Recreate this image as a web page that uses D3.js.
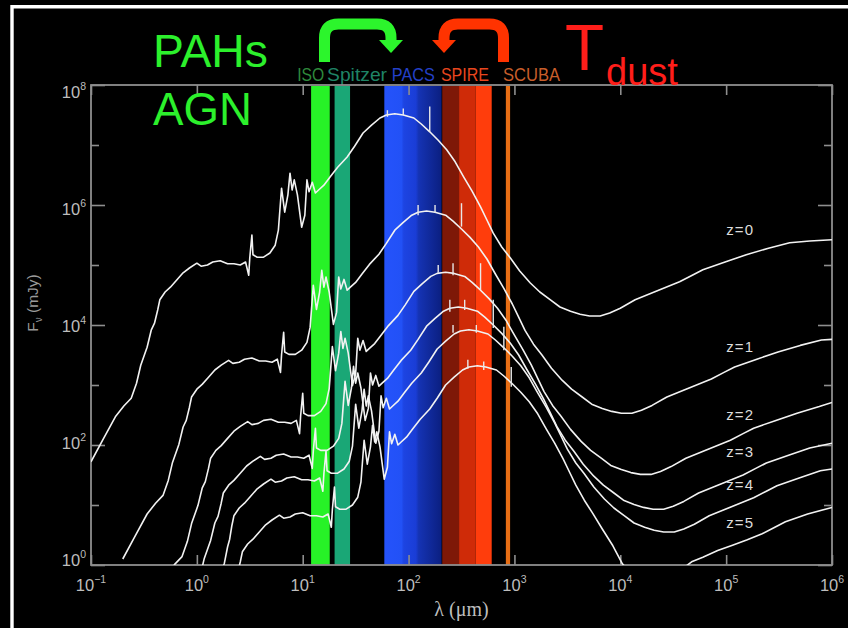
<!DOCTYPE html>
<html>
<head>
<meta charset="utf-8">
<script src="https://cdn.jsdelivr.net/npm/d3@7"></script>
<style>
  html, body { margin: 0; padding: 0; background: #000; }
  svg { display: block; }
</style>
</head>
<body>
<svg id="chart" width="848" height="628"></svg>
<script>
// ---------------------------------------------------------------
// Starburst SED template seen at redshifts z = 0 ... 5
// each point: [log10 λ (μm), log10 Fν (mJy)]
// ---------------------------------------------------------------
const sedZ0 = [[-1.00,1.72],[-0.89,2.08],[-0.77,2.47],[-0.69,2.65],[-0.62,2.78],[-0.57,3.03],[-0.53,3.33],[-0.47,3.63],[-0.43,3.92],[-0.40,4.03],[-0.37,4.25],[-0.35,4.42],[-0.30,4.55],[-0.25,4.63],[-0.19,4.75],[-0.13,4.87],[-0.07,4.95],[0.00,5.03],[0.04,4.98],[0.10,5.00],[0.15,5.05],[0.22,5.07],[0.29,5.02],[0.35,5.02],[0.41,5.00],[0.46,5.05],[0.49,4.83],[0.50,5.12],[0.52,5.50],[0.53,5.17],[0.57,5.13],[0.63,5.13],[0.69,5.20],[0.74,5.33],[0.77,5.58],[0.80,6.28],[0.83,5.88],[0.86,6.17],[0.88,6.53],[0.90,6.25],[0.92,6.42],[0.95,6.17],[0.99,5.63],[1.02,5.83],[1.04,6.42],[1.06,6.22],[1.09,6.38],[1.12,6.20],[1.15,6.25],[1.20,6.33],[1.26,6.47],[1.33,6.63],[1.42,6.80],[1.49,6.98],[1.57,7.20],[1.65,7.33],[1.73,7.45],[1.79,7.50],[1.87,7.52],[1.95,7.50],[2.05,7.45],[2.12,7.35],[2.20,7.22],[2.28,7.08],[2.36,6.92],[2.44,6.72],[2.52,6.47],[2.60,6.23],[2.68,5.97],[2.74,5.75],[2.80,5.53],[2.88,5.30],[2.96,5.12],[3.05,4.90],[3.15,4.70],[3.24,4.55],[3.34,4.42],[3.43,4.30],[3.53,4.23],[3.62,4.18],[3.71,4.15],[3.81,4.15],[3.90,4.20],[4.00,4.28],[4.14,4.42],[4.28,4.52],[4.42,4.62],[4.56,4.72],[4.68,4.83],[4.78,4.92],[4.99,5.05],[5.19,5.17],[5.40,5.28],[5.60,5.37],[5.79,5.40],[6.00,5.42]];

const sedZ1 = [[-0.70,0.10],[-0.59,0.46],[-0.47,0.85],[-0.39,1.03],[-0.32,1.16],[-0.27,1.41],[-0.23,1.71],[-0.17,2.01],[-0.13,2.30],[-0.10,2.41],[-0.07,2.63],[-0.05,2.80],[0.00,2.93],[0.05,3.01],[0.11,3.13],[0.17,3.25],[0.23,3.33],[0.30,3.41],[0.34,3.36],[0.40,3.38],[0.45,3.43],[0.52,3.45],[0.59,3.40],[0.65,3.40],[0.71,3.38],[0.76,3.43],[0.79,3.21],[0.80,3.50],[0.82,3.88],[0.83,3.55],[0.87,3.51],[0.93,3.51],[0.99,3.58],[1.04,3.71],[1.07,3.96],[1.10,4.66],[1.13,4.26],[1.16,4.55],[1.18,4.91],[1.20,4.63],[1.22,4.80],[1.25,4.55],[1.29,4.01],[1.32,4.21],[1.34,4.80],[1.36,4.60],[1.39,4.76],[1.42,4.58],[1.45,4.63],[1.50,4.71],[1.56,4.85],[1.63,5.01],[1.72,5.18],[1.79,5.36],[1.87,5.58],[1.95,5.71],[2.03,5.83],[2.09,5.88],[2.17,5.90],[2.25,5.88],[2.35,5.83],[2.42,5.73],[2.50,5.60],[2.58,5.46],[2.66,5.30],[2.74,5.10],[2.82,4.85],[2.90,4.61],[2.98,4.35],[3.04,4.13],[3.10,3.91],[3.18,3.68],[3.26,3.50],[3.35,3.28],[3.45,3.08],[3.54,2.93],[3.64,2.80],[3.73,2.68],[3.83,2.61],[3.92,2.56],[4.01,2.53],[4.11,2.53],[4.20,2.58],[4.30,2.66],[4.44,2.80],[4.58,2.90],[4.72,3.00],[4.86,3.10],[4.98,3.21],[5.08,3.30],[5.29,3.43],[5.49,3.55],[5.70,3.66],[5.90,3.75],[6.00,3.76]];

const sedZ2 = [[-0.29,-0.17],[-0.21,0.01],[-0.14,0.14],[-0.09,0.39],[-0.05,0.69],[0.01,0.99],[0.05,1.28],[0.08,1.39],[0.11,1.61],[0.13,1.78],[0.18,1.91],[0.23,1.99],[0.29,2.11],[0.35,2.23],[0.41,2.31],[0.48,2.39],[0.52,2.34],[0.58,2.36],[0.63,2.41],[0.70,2.43],[0.77,2.38],[0.83,2.38],[0.89,2.36],[0.94,2.41],[0.97,2.19],[0.98,2.48],[1.00,2.86],[1.01,2.53],[1.05,2.49],[1.11,2.49],[1.17,2.56],[1.22,2.69],[1.25,2.94],[1.28,3.64],[1.31,3.24],[1.34,3.53],[1.36,3.89],[1.38,3.61],[1.40,3.78],[1.43,3.53],[1.47,2.99],[1.50,3.19],[1.52,3.78],[1.54,3.58],[1.57,3.74],[1.60,3.56],[1.63,3.61],[1.68,3.69],[1.74,3.83],[1.81,3.99],[1.90,4.16],[1.97,4.34],[2.05,4.56],[2.13,4.69],[2.21,4.81],[2.27,4.86],[2.35,4.88],[2.43,4.86],[2.53,4.81],[2.60,4.71],[2.68,4.58],[2.76,4.44],[2.84,4.28],[2.92,4.08],[3.00,3.83],[3.08,3.59],[3.16,3.33],[3.22,3.11],[3.28,2.89],[3.36,2.66],[3.44,2.48],[3.53,2.26],[3.63,2.06],[3.72,1.91],[3.82,1.78],[3.91,1.66],[4.01,1.59],[4.10,1.54],[4.19,1.51],[4.29,1.51],[4.38,1.56],[4.48,1.64],[4.62,1.78],[4.76,1.88],[4.90,1.98],[5.04,2.08],[5.16,2.19],[5.26,2.28],[5.47,2.41],[5.67,2.53],[5.88,2.64],[6.00,2.71]];

const sedZ3 = [[0.03,-0.19],[0.07,0.11],[0.13,0.41],[0.17,0.70],[0.20,0.81],[0.23,1.03],[0.25,1.20],[0.30,1.33],[0.35,1.41],[0.41,1.53],[0.47,1.65],[0.53,1.73],[0.60,1.81],[0.64,1.76],[0.70,1.78],[0.75,1.83],[0.82,1.85],[0.89,1.80],[0.95,1.80],[1.01,1.78],[1.06,1.83],[1.09,1.61],[1.10,1.90],[1.12,2.28],[1.13,1.95],[1.17,1.91],[1.23,1.91],[1.29,1.98],[1.34,2.11],[1.37,2.36],[1.40,3.06],[1.43,2.66],[1.46,2.95],[1.48,3.31],[1.50,3.03],[1.52,3.20],[1.55,2.95],[1.59,2.41],[1.62,2.61],[1.64,3.20],[1.66,3.00],[1.69,3.16],[1.72,2.98],[1.75,3.03],[1.80,3.11],[1.86,3.25],[1.93,3.41],[2.02,3.58],[2.09,3.76],[2.17,3.98],[2.25,4.11],[2.33,4.23],[2.39,4.28],[2.47,4.30],[2.55,4.28],[2.65,4.23],[2.72,4.13],[2.80,4.00],[2.88,3.86],[2.96,3.70],[3.04,3.50],[3.12,3.25],[3.20,3.01],[3.28,2.75],[3.34,2.53],[3.40,2.31],[3.48,2.08],[3.56,1.90],[3.65,1.68],[3.75,1.48],[3.84,1.33],[3.94,1.20],[4.03,1.08],[4.13,1.01],[4.22,0.96],[4.31,0.93],[4.41,0.93],[4.50,0.98],[4.60,1.06],[4.74,1.20],[4.88,1.30],[5.02,1.40],[5.16,1.50],[5.28,1.61],[5.38,1.70],[5.59,1.83],[5.79,1.95],[6.00,2.03]];

const sedZ4 = [[0.20,-0.27],[0.26,0.03],[0.29,0.30],[0.31,0.43],[0.33,0.65],[0.35,0.82],[0.40,0.95],[0.45,1.03],[0.51,1.15],[0.57,1.27],[0.63,1.35],[0.70,1.43],[0.74,1.38],[0.80,1.40],[0.85,1.45],[0.92,1.47],[0.99,1.42],[1.05,1.42],[1.11,1.40],[1.16,1.45],[1.19,1.23],[1.20,1.52],[1.22,1.90],[1.23,1.57],[1.27,1.53],[1.33,1.53],[1.39,1.60],[1.44,1.73],[1.47,1.98],[1.50,2.68],[1.53,2.28],[1.56,2.57],[1.58,2.93],[1.60,2.65],[1.62,2.82],[1.65,2.57],[1.69,2.03],[1.72,2.23],[1.74,2.82],[1.76,2.62],[1.79,2.78],[1.82,2.60],[1.85,2.65],[1.90,2.73],[1.96,2.87],[2.03,3.03],[2.12,3.20],[2.19,3.38],[2.27,3.60],[2.35,3.73],[2.43,3.85],[2.49,3.90],[2.57,3.92],[2.65,3.90],[2.75,3.85],[2.82,3.75],[2.90,3.62],[2.98,3.48],[3.06,3.32],[3.14,3.12],[3.22,2.87],[3.30,2.63],[3.38,2.37],[3.44,2.15],[3.50,1.93],[3.58,1.70],[3.66,1.52],[3.75,1.30],[3.85,1.10],[3.94,0.95],[4.04,0.82],[4.13,0.70],[4.23,0.63],[4.32,0.58],[4.41,0.55],[4.51,0.55],[4.60,0.60],[4.70,0.68],[4.84,0.82],[4.98,0.92],[5.12,1.02],[5.26,1.12],[5.38,1.23],[5.48,1.32],[5.69,1.45],[5.89,1.57],[6.00,1.60]];

const sedZ5 = [[0.38,-0.17],[0.41,0.05],[0.43,0.22],[0.48,0.35],[0.53,0.43],[0.59,0.55],[0.65,0.67],[0.71,0.75],[0.78,0.83],[0.82,0.78],[0.88,0.80],[0.93,0.85],[1.00,0.87],[1.07,0.82],[1.13,0.82],[1.19,0.80],[1.24,0.85],[1.27,0.63],[1.28,0.92],[1.30,1.30],[1.31,0.97],[1.35,0.93],[1.41,0.93],[1.47,1.00],[1.52,1.13],[1.55,1.38],[1.58,2.08],[1.61,1.68],[1.64,1.97],[1.66,2.33],[1.68,2.05],[1.70,2.22],[1.73,1.97],[1.77,1.43],[1.80,1.63],[1.82,2.22],[1.84,2.02],[1.87,2.18],[1.90,2.00],[1.93,2.05],[1.98,2.13],[2.04,2.27],[2.11,2.43],[2.20,2.60],[2.27,2.78],[2.35,3.00],[2.43,3.13],[2.51,3.25],[2.57,3.30],[2.65,3.32],[2.73,3.30],[2.83,3.25],[2.90,3.15],[2.98,3.02],[3.06,2.88],[3.14,2.72],[3.22,2.52],[3.30,2.27],[3.38,2.03],[3.46,1.77],[3.52,1.55],[3.58,1.33],[3.66,1.08],[3.74,0.86],[3.83,0.60],[3.93,0.32],[4.02,0.02],[4.12,-0.18],[4.21,-0.28],[4.31,-0.32],[4.40,-0.30],[4.49,-0.22],[4.59,-0.06],[4.68,0.06],[4.78,0.13],[4.92,0.24],[5.06,0.33],[5.20,0.42],[5.34,0.52],[5.46,0.63],[5.56,0.72],[5.77,0.85],[6.00,0.96]];

const seriesNames = ["z=0", "z=1", "z=2", "z=3", "z=4", "z=5"];
const seriesData = [sedZ0, sedZ1, sedZ2, sedZ3, sedZ4, sedZ5];
// where each z label sits: [λ (μm), Fν (mJy)]
const zLabelAt = [[1e5, 3.7e5], [1e5, 4.2e3], [1e5, 302], [1e5, 74], [1e5, 21], [1e5, 4.8]];

// model photometry ticks per redshift: [log10 λ, log10 F low, log10 F high]
const photTicks = [
  [[1.80,7.47,7.58],[1.95,7.50,7.61],[2.20,7.22,7.64]],
  [[2.09,5.83,6.00],[2.25,5.87,6.00],[2.50,5.64,6.03]],
  [[2.28,4.87,5.00],[2.42,4.83,5.03],[2.68,4.58,5.03]],
  [[2.39,4.22,4.42],[2.53,4.25,4.42],[2.80,3.95,4.42]],
  [[2.42,3.87,4.00],[2.64,3.87,4.00],[2.90,3.58,3.97]],
  [[2.56,3.27,3.42],[2.71,3.25,3.39],[2.97,2.97,3.30]]
];

// instrument wavebands, λ in μm
const bandNames = ["ISO", "Spitzer", "PACS", "SPIRE-1", "SPIRE-2", "SPIRE-3", "SCUBA"];
const bandLo    = [12, 20, 59, 208, 300, 430, 830];
const bandHi    = [18, 28, 205, 300, 430, 610, 910];

// instrument captions and the wavelength they are centred on
const captionText = ["ISO", "Spitzer", "PACS", "SPIRE", "SCUBA"];
const captionLam  = [11.9, 32.6, 111, 341, 1450];

// axis decades
const xDecades = [-1, 0, 1, 2, 3, 4, 5, 6];
const yDecades = [0, 1, 2, 3, 4, 5, 6, 7, 8];
const yLabelled = [0, 2, 4, 6, 8];

// ---------------------------------------------------------------
const bandFill = {
  "ISO": "#27f227", "Spitzer": "#1aa776", "PACS": "url(#pacsGrad)",
  "SPIRE-1": "#7e1807", "SPIRE-2": "#cf2b08", "SPIRE-3": "#ff3d0c", "SCUBA": "#e86e14"
};
const captionFill = {
  "ISO": "#2f8a3c", "Spitzer": "#1f8466", "PACS": "#2440c8", "SPIRE": "#e8461e", "SCUBA": "#c85e2a"
};
const captionWidth = { "ISO": 27, "Spitzer": 60, "PACS": 43, "SPIRE": 48, "SCUBA": 57 };

const W = 848, H = 628;
const plot = { left: 91, right: 832, top: 85, bottom: 565 };

const svg = d3.select("#chart");
svg.append("rect").attr("width", W).attr("height", H).attr("fill", "#000");

const x = d3.scaleLog().domain([1e-1, 1e6]).range([plot.left, plot.right]);
const y = d3.scaleLog().domain([1, 1e8]).range([plot.bottom, plot.top]);
// tick captions on the flux axis sit on a slightly compressed ladder
const yText = y.copy().range([560, 92]);

const defs = svg.append("defs");
const g = defs.append("linearGradient").attr("id", "pacsGrad").attr("x1", "0").attr("x2", "1").attr("y1", "0").attr("y2", "0");
[[0, "#2553fb"], [0.3, "#2251f6"], [0.34, "#1d44e2"], [0.55, "#1a3dd6"], [0.6, "#1533b4"], [1, "#0b1f80"]]
  .forEach(([o, c]) => g.append("stop").attr("offset", o).attr("stop-color", c));
defs.append("clipPath").attr("id", "plotClip").append("rect")
  .attr("x", plot.left).attr("y", plot.top)
  .attr("width", plot.right - plot.left).attr("height", plot.bottom - plot.top);

// outer white frame
svg.append("path")
  .attr("d", `M12,${H + 10} V6.7 H${W + 10}`)
  .attr("fill", "none").attr("stroke", "#fff").attr("stroke-width", 3.4);

// wavebands
svg.append("g").selectAll("rect").data(bandNames).join("rect")
  .attr("x", (d, i) => x(bandLo[i]))
  .attr("width", (d, i) => x(bandHi[i]) - x(bandLo[i]))
  .attr("y", plot.top + 1).attr("height", plot.bottom - plot.top - 1)
  .attr("fill", d => bandFill[d]);

// band captions
svg.append("g").selectAll("text").data(captionText).join("text")
  .attr("x", (d, i) => x(captionLam[i])).attr("y", 81)
  .attr("text-anchor", "middle")
  .attr("font-family", "'Liberation Sans','Arial',sans-serif")
  .attr("font-size", 19).attr("fill", d => captionFill[d])
  .attr("textLength", d => captionWidth[d]).attr("lengthAdjust", "spacingAndGlyphs")
  .text(d => d);

// axes box and ticks
const axisColor = "#8e8e8e";
const axes = svg.append("g").attr("stroke", axisColor).attr("fill", "none");
axes.append("rect")
  .attr("x", plot.left).attr("y", plot.top)
  .attr("width", plot.right - plot.left).attr("height", plot.bottom - plot.top)
  .attr("stroke-width", 1.8);

function styleAxis(sel) {
  sel.select(".domain").remove();
  sel.selectAll("line").attr("stroke", axisColor).attr("stroke-width", 1.6);
}
const xTickVals = xDecades.map(e => Math.pow(10, e));
svg.append("g").attr("transform", `translate(0,${plot.bottom})`)
  .call(d3.axisBottom(x).tickValues(xTickVals).tickSize(-10).tickFormat(""))
  .call(styleAxis);
svg.append("g").attr("transform", `translate(0,${plot.top})`)
  .call(d3.axisTop(x).tickValues(xTickVals).tickSize(-10).tickFormat(""))
  .call(styleAxis);

const yMajor = yLabelled.map(e => Math.pow(10, e));
const yMinor = yDecades.filter(e => !yLabelled.includes(e)).map(e => Math.pow(10, e));
[[d3.axisLeft, plot.left], [d3.axisRight, plot.right]].forEach(([ax, px]) => {
  svg.append("g").attr("transform", `translate(${px},0)`)
    .call(ax(y).tickValues(yMajor).tickSize(-14).tickFormat("")).call(styleAxis);
  svg.append("g").attr("transform", `translate(${px},0)`)
    .call(ax(y).tickValues(yMinor).tickSize(-8).tickFormat("")).call(styleAxis);
});

// tick captions 10^n
const tickFont = "'Liberation Sans','Arial',sans-serif";
const tickFill = "#bdbdbd";
function power(sel, expo) {
  sel.append("tspan").text("10");
  sel.append("tspan").attr("dy", -8).attr("font-size", 10.5)
    .text(expo < 0 ? "\u2212" + (-expo) : String(expo));
}
svg.append("g").selectAll("text").data(xDecades).join("text")
  .attr("x", e => x(Math.pow(10, e))).attr("y", 591)
  .attr("text-anchor", "middle").attr("font-family", tickFont)
  .attr("font-size", 16.5).attr("fill", tickFill)
  .each(function (e) { power(d3.select(this), e); });
svg.append("g").selectAll("text").data(yLabelled).join("text")
  .attr("x", 86).attr("y", e => yText(Math.pow(10, e)) + 6)
  .attr("text-anchor", "end").attr("font-family", tickFont)
  .attr("font-size", 16.5).attr("fill", tickFill)
  .each(function (e) { power(d3.select(this), e); });

// axis titles
svg.append("text")
  .attr("x", (plot.left + plot.right) / 2).attr("y", 616)
  .attr("text-anchor", "middle")
  .attr("font-family", "'Liberation Serif','Times New Roman',serif")
  .attr("font-size", 20).attr("fill", "#bdbdbd")
  .text("\u03bb (\u03bcm)");
const yTitle = svg.append("text")
  .attr("transform", `translate(38,${(plot.top + plot.bottom) / 2 - 22}) rotate(-90)`)
  .attr("text-anchor", "middle")
  .attr("font-family", tickFont).attr("font-size", 15.5).attr("fill", "#9a9a9a");
yTitle.append("tspan").text("F");
yTitle.append("tspan").attr("dy", 4).attr("font-size", 10).text("\u03bd");
yTitle.append("tspan").attr("dy", -4).text(" (mJy)");

// SED curves
const line = d3.line()
  .x(d => x(Math.pow(10, d[0])))
  .y(d => y(Math.pow(10, d[1])));
const curves = svg.append("g").attr("clip-path", "url(#plotClip)");
curves.selectAll("path").data(seriesData).join("path")
  .attr("d", line)
  .attr("fill", "none").attr("stroke", "#f2f2f2")
  .attr("stroke-width", 1.6).attr("stroke-linejoin", "round");

// photometric ticks on each curve
curves.append("g").selectAll("line").data(photTicks.flat()).join("line")
  .attr("x1", d => x(Math.pow(10, d[0]))).attr("x2", d => x(Math.pow(10, d[0])))
  .attr("y1", d => y(Math.pow(10, d[1]))).attr("y2", d => y(Math.pow(10, d[2])))
  .attr("stroke", "#e8e8e8").attr("stroke-width", 1.4);

// redshift labels
svg.append("g").selectAll("text").data(seriesNames).join("text")
  .attr("x", (d, i) => x(zLabelAt[i][0])).attr("y", (d, i) => y(zLabelAt[i][1]))
  .attr("dominant-baseline", "middle")
  .attr("font-family", tickFont).attr("font-size", 15)
  .attr("letter-spacing", 1.2).attr("fill", "#dcdcdc")
  .text(d => d);

// headline annotations
const big = "'Liberation Sans','Arial',sans-serif";
svg.append("text").attr("x", 153).attr("y", 67).attr("font-family", big)
  .attr("font-size", 47).attr("fill", "#2cf02c")
  .attr("textLength", 115).attr("lengthAdjust", "spacingAndGlyphs").text("PAHs");
svg.append("text").attr("x", 153).attr("y", 125).attr("font-family", big)
  .attr("font-size", 47).attr("fill", "#2cf02c")
  .attr("textLength", 99).attr("lengthAdjust", "spacingAndGlyphs").text("AGN");
svg.append("text").attr("x", 565).attr("y", 70).attr("font-family", big)
  .attr("font-size", 64).attr("fill", "#ff1e1a").text("T");
svg.append("text").attr("x", 606).attr("y", 85).attr("font-family", big)
  .attr("font-size", 38).attr("fill", "#ff1e1a").text("dust");

// curved arrows
function bentArrow(x0, x1, colour) {
  const dir = x1 > x0 ? 1 : -1, r = 14, top = 24;
  svg.append("path")
    .attr("d", `M${x0},62 V${top + r} Q${x0},${top} ${x0 + dir * r},${top} H${x1 - dir * r} Q${x1},${top} ${x1},${top + r} V42`)
    .attr("fill", "none").attr("stroke", colour).attr("stroke-width", 11);
  svg.append("path")
    .attr("d", `M${x1 - 12},40 L${x1 + 12},40 L${x1},53 Z`)
    .attr("fill", colour);
}
bentArrow(324.5, 391, "#2cf52c");
bentArrow(503.5, 444, "#ff3300");
</script>
</body>
</html>
